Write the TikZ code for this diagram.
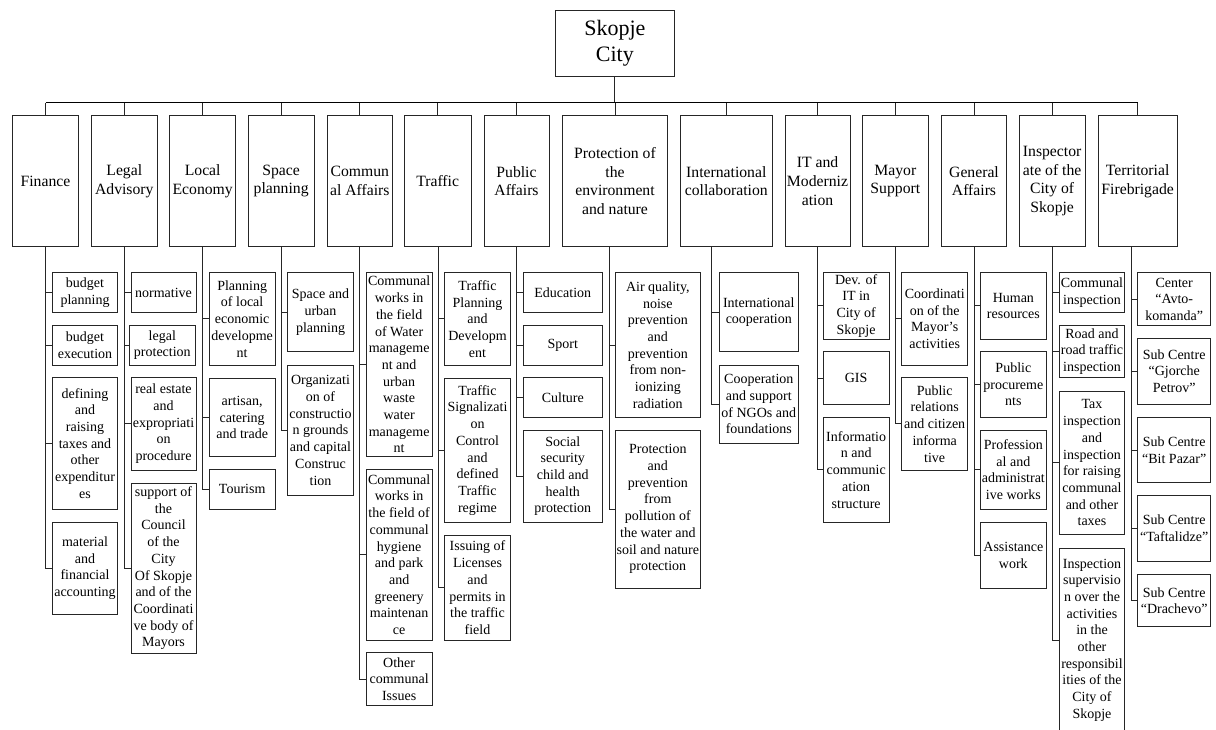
\documentclass[tikz,border=0pt]{standalone}
\usepackage{fontspec}
\setmainfont{Liberation Serif}
\tikzset{
  box/.style={draw=black!85, line width=0.8pt, inner sep=0pt, align=center, font=\fontsize{14}{16.7}\selectfont},
  dept/.style={box, font=\fontsize{15.7}{18.7}\selectfont},
  rootbox/.style={box, font=\fontsize{22}{26.5}\selectfont},
  wire/.style={draw=black!85, line width=0.8pt},
  buswire/.style={draw=black, line width=1.1pt}
}
\newcommand\bx[7][box]{\node[#1, minimum width={(#5-#3)*1pt}, minimum height={(#6-#4)*1pt}] (#2) at ({(#3+#5)/2},{(#4+#6)/2}) {#7};}
\begin{document}
\begin{tikzpicture}[x=1pt,y=-1pt]
\useasboundingbox (0,0) rectangle (1216,729);
% root
\bx[rootbox]{root}{555.7}{10.3}{674}{76.3}{Skopje\\City}
% departments
\bx[dept]{d1}{12.3}{115.3}{78.7}{246.7}{Finance}
\bx[dept]{d2}{91.3}{115.3}{157.3}{246.7}{Legal\\Advisory}
\bx[dept]{d3}{169.7}{115.3}{235.7}{246.7}{Local\\Economy}
\bx[dept]{d4}{248.3}{115.3}{314}{246.7}{Space\\planning}
\bx[dept]{d5}{327}{115.3}{392.7}{246.7}{Commun\\al Affairs}
\bx[dept]{d6}{404.3}{115.3}{471}{246.7}{Traffic}
\bx[dept]{d7}{484}{115.3}{549}{246.7}{Public\\Affairs}
\bx[dept]{d8}{562.7}{115.3}{667.3}{246.7}{Protection of\\the\\environment\\and nature}
\bx[dept]{d9}{680.3}{115.3}{772.3}{246.7}{International\\collaboration}
\bx[dept]{d10}{785}{115.3}{850}{246.7}{IT and\\Moderniz\\ation}
\bx[dept]{d11}{862.7}{115.3}{928}{246.7}{Mayor\\Support}
\bx[dept]{d12}{941.3}{115.3}{1006.7}{246.7}{General\\Affairs}
\bx[dept]{d13}{1019.3}{115.3}{1085}{246.7}{Inspector\\ate of the\\City of\\Skopje}
\bx[dept]{d14}{1098}{115.3}{1177.3}{246.7}{Territorial\\Firebrigade}
% column 1
\bx{c1a}{52.3}{272.7}{117.7}{312.3}{budget\\planning}
\bx{c1b}{52.3}{325.3}{117.7}{365}{budget\\execution}
\bx{c1c}{52.3}{377.7}{117.7}{509}{defining\\and\\raising\\taxes and\\other\\expenditur\\es}
\bx{c1d}{52.3}{522.3}{117.7}{614}{material\\and\\financial\\accounting}
% column 2
\bx{c2a}{131}{272.7}{196}{312.3}{normative}
\bx{c2b}{129.7}{325.3}{195}{365}{legal\\protection}
\bx{c2c}{131}{377.7}{196}{470}{real estate\\and\\expropriati\\on\\procedure}
\bx{c2d}{131}{483.3}{196}{653.3}{support of\\the\\Council\\of the\\City\\Of Skopje\\and of the\\Coordinati\\ve body of\\Mayors}
% column 3
\bx{c3a}{209.3}{272.7}{275}{365}{Planning\\of local\\economic\\developme\\nt}
\bx{c3b}{209.3}{378.3}{275}{456.7}{artisan,\\catering\\and trade}
\bx{c3c}{209.3}{469.3}{275}{509}{Tourism}
% column 4
\bx{c4a}{287.7}{272.7}{353.3}{351.7}{Space and\\urban\\planning}
\bx{c4b}{287.7}{365}{353.3}{495.7}{Organizati\\on of\\constructio\\n grounds\\and capital\\Construc\\tion}
% column 5
\bx{c5a}{366}{272.7}{432.3}{456.7}{Communal\\works in\\the field\\of Water\\manageme\\nt and\\urban\\waste\\water\\manageme\\nt}
\bx{c5b}{366}{469.3}{432.3}{640}{Communal\\works in\\the field of\\communal\\hygiene\\and park\\and\\greenery\\maintenan\\ce}
\bx{c5c}{366}{652.7}{432.3}{705.7}{Other\\communal\\Issues}
% column 6
\bx{c6a}{444.3}{272.7}{510.7}{365}{Traffic\\Planning\\and\\Developm\\ent}
\bx{c6b}{444.3}{378.3}{510.7}{522.3}{Traffic\\Signalizati\\on\\Control\\and\\defined\\Traffic\\regime}
\bx{c6c}{444.3}{535.7}{510.7}{640}{Issuing of\\Licenses\\and\\permits in\\the traffic\\field}
% column 7
\bx{c7a}{523.3}{272.7}{602.3}{312.3}{Education}
\bx{c7b}{523.3}{325.3}{602.3}{365}{Sport}
\bx{c7c}{523.3}{377.7}{602.3}{417.3}{Culture}
\bx{c7d}{523.3}{430}{602.3}{522.3}{Social\\security\\child and\\health\\protection}
% column 8
\bx{c8a}{615}{272.7}{700.7}{417.3}{Air quality,\\noise\\prevention\\and\\prevention\\from non-\\ionizing\\radiation}
\bx{c8b}{615}{430}{700.7}{588.3}{Protection\\and\\prevention\\from\\pollution of\\the water and\\soil and nature\\protection}
% column 9
\bx{c9a}{719.3}{272.7}{798.3}{351.7}{International\\cooperation}
\bx{c9b}{719.3}{365}{798.3}{443.3}{Cooperation\\and support\\of NGOs and\\foundations}
% column 10
\bx{c10a}{823.3}{272.7}{889}{339}{Dev. of\\IT in\\City of\\Skopje}
\bx{c10b}{823.3}{351.7}{889}{404.3}{GIS}
\bx{c10c}{823.3}{417.3}{889}{522.3}{Informatio\\n and\\communic\\ation\\structure}
% column 11
\bx{c11a}{901.7}{272.7}{967.7}{365}{Coordinati\\on of the\\Mayor’s\\activities}
\bx{c11b}{901.7}{377.7}{967.7}{470}{Public\\relations\\and citizen\\informa\\tive}
% column 12
\bx{c12a}{980}{272.7}{1046.7}{339}{Human\\resources}
\bx{c12b}{980}{351.7}{1046.7}{417.3}{Public\\procureme\\nts}
\bx{c12c}{980}{430}{1046.7}{509}{Profession\\al and\\administrat\\ive works}
\bx{c12d}{980}{522.3}{1046.7}{588.3}{Assistance\\work}
% column 13
\bx{c13a}{1059.3}{272.7}{1124.7}{312.3}{Communal\\inspection}
\bx{c13b}{1059.3}{325.3}{1124.7}{377.7}{Road and\\road traffic\\inspection}
\bx{c13c}{1059.3}{391}{1124.7}{534.7}{Tax\\inspection\\and\\inspection\\for raising\\communal\\and other\\taxes}
\bx{c13d}{1059.3}{548.3}{1124.7}{731.7}{Inspection\\supervisio\\n over the\\activities\\in the\\other\\responsibil\\ities of the\\City of\\Skopje}
% column 14
\bx{c14a}{1137.7}{272.7}{1210.7}{325.7}{Center\\“Avto-\\komanda”}
\bx{c14b}{1137.7}{338.3}{1210.7}{404}{Sub Centre\\“Gjorche\\Petrov”}
\bx{c14c}{1137.7}{417.3}{1210.7}{482.7}{Sub Centre\\“Bit Pazar”}
\bx{c14d}{1137.7}{495.7}{1210.7}{561.3}{Sub Centre\\“Taftalidze”}
\bx{c14e}{1137.7}{574.7}{1210.7}{626.7}{Sub Centre\\“Drachevo”}
% top connectors
\coordinate (bus) at (0,102.7);
\draw[wire] (root.south) -- (root.south |- bus);
\draw[buswire] (d1.north |- bus) -- (d14.north |- bus);
\foreach \i in {1,...,14} { \draw[wire] (d\i.north) -- (d\i.north |- bus); }
% column stems
\coordinate (s1) at ([xshift=0pt]d1.south);
\coordinate (s2) at ([xshift=0pt]d2.south);
\coordinate (s3) at ([xshift=0pt]d3.south);
\coordinate (s4) at ([xshift=0.5pt]d4.south);
\coordinate (s5) at ([xshift=0pt]d5.south);
\coordinate (s6) at ([xshift=0.3pt]d6.south);
\coordinate (s7) at ([xshift=0pt]d7.south);
\coordinate (s8) at ([xshift=-6pt]d8.south);
\coordinate (s9) at ([xshift=-14.6pt]d9.south);
\coordinate (s10) at ([xshift=0pt]d10.south);
\coordinate (s11) at ([xshift=0pt]d11.south);
\coordinate (s12) at ([xshift=0pt]d12.south);
\coordinate (s13) at ([xshift=0.4pt]d13.south);
\coordinate (s14) at ([xshift=-6.6pt]d14.south);
\newcommand\stem[3]{\draw[wire] (#1) |- (#2.west);
  \foreach \c in {#3} { \draw[wire] (#1 |- \c.west) -- (\c.west); }}
\stem{s1}{c1d}{c1a,c1b,c1c}
\stem{s2}{c2d}{c2a,c2b,c2c}
\stem{s3}{c3c}{c3a,c3b}
\stem{s4}{c4b}{c4a}
\stem{s5}{c5c}{c5a,c5b}
\stem{s6}{c6c}{c6a,c6b}
\stem{s7}{c7d}{c7a,c7b,c7c}
\stem{s8}{c8b}{c8a}
\stem{s9}{c9b}{c9a}
\stem{s10}{c10c}{c10a,c10b}
\stem{s11}{c11b}{c11a}
\stem{s12}{c12d}{c12a,c12b,c12c}
\stem{s13}{c13d}{c13a,c13b,c13c}
\stem{s14}{c14e}{c14a,c14b,c14c,c14d}
\end{tikzpicture}
\end{document}
